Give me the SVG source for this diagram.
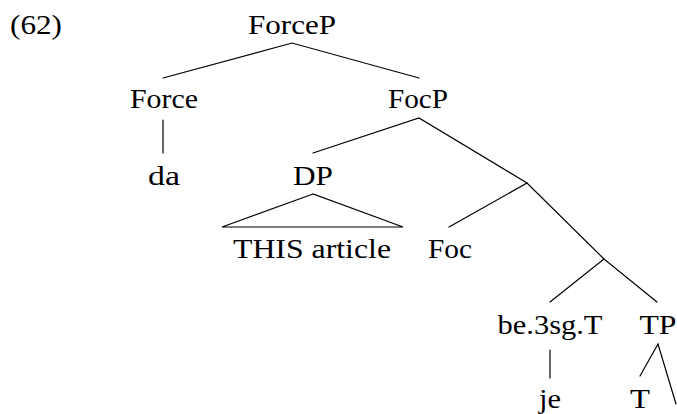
<svg xmlns="http://www.w3.org/2000/svg" width="677" height="414" viewBox="0 0 677 414">
<style>
text{font-size:28px;fill:#000;text-anchor:middle}
.e line,.e polyline,.e polygon{stroke:#000;stroke-width:1.2;fill:none;stroke-linecap:round;stroke-linejoin:miter}
</style>
<rect width="677" height="414" fill="#fff"/>
<g font-family="'Liberation Serif', 'DejaVu Serif', Times, serif">
<g id="label"><text x="10" y="34" style="text-anchor:start" textLength="52" lengthAdjust="spacingAndGlyphs">(62)</text></g>
<g class="e" id="connectors">
<polyline points="163,78 292,43 419,78"/>
<line x1="163" y1="120" x2="163" y2="153"/>
<polyline points="313,153 419,118 527,183"/>
<polygon points="313,194 222,227 403,227"/>
<polyline points="449,227 527,183 604,259"/>
<polyline points="550,302 604,259 657,302"/>
<line x1="550" y1="350" x2="550" y2="378"/>
<polyline points="640,376 658,344 676,404"/>
</g>
<g id="ForceP"><text x="292" y="34" textLength="88" lengthAdjust="spacingAndGlyphs">ForceP</text></g>
<g id="Force"><text x="164" y="108" textLength="68" lengthAdjust="spacingAndGlyphs">Force</text></g>
<g id="FocP"><text x="418" y="108" textLength="60" lengthAdjust="spacingAndGlyphs">FocP</text></g>
<g id="da"><text x="164" y="185" textLength="32" lengthAdjust="spacingAndGlyphs">da</text></g>
<g id="DP"><text x="313" y="185" textLength="40" lengthAdjust="spacingAndGlyphs">DP</text></g>
<g id="THIS_article"><text x="312" y="258" textLength="158" lengthAdjust="spacingAndGlyphs">THIS article</text></g>
<g id="Foc"><text x="450" y="258" textLength="44" lengthAdjust="spacingAndGlyphs">Foc</text></g>
<g id="be3sgT"><text x="550" y="334" textLength="105" lengthAdjust="spacingAndGlyphs">be.3sg.T</text></g>
<g id="TP"><text x="658" y="334" textLength="37" lengthAdjust="spacingAndGlyphs">TP</text></g>
<g id="je"><text x="550" y="408" textLength="22" lengthAdjust="spacingAndGlyphs">je</text></g>
<g id="T"><text x="640" y="408" textLength="20" lengthAdjust="spacingAndGlyphs">T</text></g>
</g>
</svg>
